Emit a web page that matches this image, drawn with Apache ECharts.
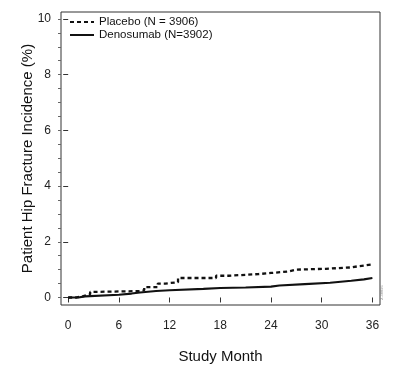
<!DOCTYPE html>
<html>
<head>
<meta charset="utf-8">
<script src="https://cdn.jsdelivr.net/npm/echarts@6/dist/echarts.min.js"></script>
<style>
  html, body { margin: 0; padding: 0; background: #fff; }
  #chart { width: 400px; height: 376px; }
</style>
</head>
<body>
<div id="chart"></div>
<script>
// step curves, [month, incidence %]
var placebo = [
    [0, 0], [1, 0.05], [1.8, 0.12], [2.6, 0.2], [3, 0.23], [8.5, 0.26], [9, 0.37],
    [10.6, 0.5], [11.5, 0.55], [13, 0.7], [17.5, 0.78], [19, 0.84], [22.5, 0.88],
    [24, 0.93], [26, 1.0], [27, 1.03], [30.5, 1.08], [33.5, 1.12], [34.3, 1.19], [36, 1.2]
];
var denosumab = [
    [0, 0], [1.2, 0.04], [2, 0.1], [6, 0.14], [7.5, 0.18], [8.5, 0.23], [10.4, 0.26],
    [12, 0.31], [16, 0.34], [18, 0.36], [21, 0.39], [24, 0.43], [25, 0.48], [28, 0.53],
    [31, 0.6], [33.5, 0.65], [35, 0.7], [36, 0.71]
];
var monthTicks = [0, 6, 12, 18, 24, 30, 36];
var pctTicks = [0, 2, 4, 6, 8, 10];
var pctMinorTicks = [0, 0.5, 1, 1.5, 2, 2.5, 3, 3.5, 4, 4.5, 5, 5.5, 6, 6.5, 7, 7.5, 8, 8.5, 9, 9.5, 10];

var chart = echarts.init(document.getElementById('chart'));

var labelFont = { fontFamily: 'Liberation Sans', fontSize: 12, color: '#222' };

chart.setOption({
    animation: false,
    textStyle: { fontFamily: 'Liberation Sans' },
    grid: {
        left: 61, right: 20, top: 12, bottom: 71,
        show: true, borderColor: '#333', borderWidth: 1, backgroundColor: 'transparent'
    },
    legend: {
        left: 64, top: 11, orient: 'vertical',
        itemWidth: 24, itemHeight: 10, itemGap: 1,
        itemStyle: { opacity: 0 },
        textStyle: { fontFamily: 'Liberation Sans', fontSize: 11.5, color: '#111' },
        data: ['Placebo (N = 3906)', 'Denosumab (N=3902)']
    },
    xAxis: {
        type: 'value', min: -0.85, max: 36.9,
        name: 'Study Month', nameLocation: 'middle', nameGap: 44, nameMoveOverlap: false,
        nameTextStyle: { fontFamily: 'Liberation Sans', fontSize: 15, color: '#111' },
        axisLine: { show: false },
        splitLine: { show: false },
        axisTick: { show: true, length: 5, customValues: monthTicks, lineStyle: { color: '#333' } },
        axisLabel: Object.assign({ margin: 15, customValues: monthTicks }, labelFont)
    },
    yAxis: [{
        type: 'value', min: -0.27, max: 10.25,
        name: 'Patient Hip Fracture Incidence (%)', nameLocation: 'middle', nameGap: 26, nameMoveOverlap: false,
        nameTextStyle: { fontFamily: 'Liberation Sans', fontSize: 15, color: '#111' },
        axisLine: { show: false },
        splitLine: { show: false },
        axisTick: { show: true, length: 5, customValues: pctTicks, lineStyle: { color: '#333' } },
        axisLabel: Object.assign({ margin: 10, customValues: pctTicks }, labelFont)
    }, {
        type: 'value', min: -0.27, max: 10.25, position: 'left',
        axisLine: { show: false },
        splitLine: { show: false },
        axisLabel: { show: false },
        axisTick: { show: true, length: 3, customValues: pctMinorTicks, lineStyle: { color: '#666' } }
    }],
    series: [{
        name: 'Placebo (N = 3906)', type: 'line', step: 'end', symbol: 'none',
        lineStyle: { color: '#111', width: 2.3, type: [4, 3] },
        itemStyle: { color: '#111' },
        data: placebo
    }, {
        name: 'Denosumab (N=3902)', type: 'line', step: 'end', symbol: 'none',
        lineStyle: { color: '#111', width: 2.1 },
        itemStyle: { color: '#111' },
        data: denosumab
    }],
    graphic: [{
        type: 'text', x: 380, y: 300, rotation: Math.PI / 2,
        style: { text: '2-38895', fontSize: 4, fill: '#888', fontFamily: 'Liberation Sans' }
    }]
});
</script>
</body>
</html>
